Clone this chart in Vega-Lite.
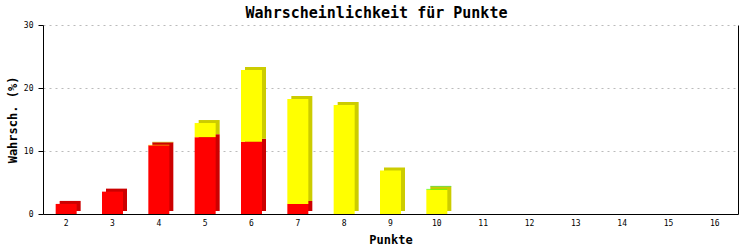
{
  "$schema": "https://vega.github.io/schema/vega-lite/v6.json",
  "width": 695,
  "height": 189,
  "autosize": "none",
  "padding": {"left": 43, "top": 25, "right": 15, "bottom": 36},
  "background": "white",
  "title": {
    "text": "Wahrscheinlichkeit für Punkte",
    "font": "DejaVu Sans Mono",
    "fontSize": 15,
    "fontWeight": "bold",
    "color": "black",
    "anchor": "middle",
    "frame": "group",
    "dx": -14,
    "offset": 0
  },
  "config": {
    "view": {"stroke": null},
    "axis": {"labelFont": "DejaVu Sans Mono", "titleFont": "DejaVu Sans Mono", "labelColor": "black", "titleColor": "black", "domainColor": "black", "tickColor": "black"}
  },
  "data": {
    "values": [
      {"punkte": 2, "serie": "rot", "ord": 1, "wert": 1.6},
      {"punkte": 3, "serie": "rot", "ord": 1, "wert": 3.55},
      {"punkte": 4, "serie": "rot", "ord": 1, "wert": 10.9},
      {"punkte": 4, "serie": "gelb", "ord": 2, "wert": 0.08},
      {"punkte": 5, "serie": "rot", "ord": 1, "wert": 12.2},
      {"punkte": 5, "serie": "gelb", "ord": 2, "wert": 2.24},
      {"punkte": 6, "serie": "rot", "ord": 1, "wert": 11.45},
      {"punkte": 6, "serie": "gelb", "ord": 2, "wert": 11.4},
      {"punkte": 7, "serie": "rot", "ord": 1, "wert": 1.6},
      {"punkte": 7, "serie": "gelb", "ord": 2, "wert": 16.65},
      {"punkte": 8, "serie": "gelb", "ord": 2, "wert": 17.3},
      {"punkte": 9, "serie": "gelb", "ord": 2, "wert": 6.9},
      {"punkte": 10, "serie": "gelb", "ord": 2, "wert": 3.9},
      {"punkte": 10, "serie": "grün", "ord": 3, "wert": 0.08}
    ]
  },
  "encoding": {
    "x": {
      "field": "punkte",
      "type": "ordinal",
      "scale": {"domain": [2, 3, 4, 5, 6, 7, 8, 9, 10, 11, 12, 13, 14, 15, 16], "paddingInner": 0, "paddingOuter": 0},
      "axis": {"title": "Punkte", "labelAngle": 0, "ticks": false, "tickSize": 0, "labelPadding": 5, "labelFontSize": 8, "titleFontSize": 12, "titleFontWeight": "bold", "titlePadding": 7, "grid": false}
    },
    "y": {
      "field": "wert",
      "type": "quantitative",
      "stack": "zero",
      "scale": {"domain": [0, 30], "nice": false}
    },
    "order": {"field": "ord", "type": "quantitative"}
  },
  "layer": [
    {
      "mark": {"type": "bar", "width": 21, "xOffset": 4, "yOffset": -3},
      "encoding": {
        "y": {"field": "wert", "type": "quantitative", "stack": "zero", "scale": {"domain": [0, 30], "nice": false},
          "axis": {"orient": "right", "labels": false, "ticks": false, "grid": false, "title": null, "domainColor": "black"}},
        "color": {"field": "serie", "type": "nominal", "scale": {"domain": ["rot", "gelb", "grün"], "range": ["#CC0000", "#CCCC00", "#00CC00"]}, "legend": null}
      }
    },
    {
      "mark": {"type": "bar", "width": 21},
      "encoding": {
        "y": {"field": "wert", "type": "quantitative", "stack": "zero", "scale": {"domain": [0, 30], "nice": false},
          "axis": {"orient": "left", "values": [0, 10, 20, 30], "title": "Wahrsch. (%)", "titleFontSize": 12, "titleFontWeight": "bold", "titlePadding": 4, "labelFontSize": 8, "labelPadding": 5, "tickSize": 5, "grid": true, "gridColor": "#BBBBBB", "gridDash": [2, 4], "gridWidth": 1}},
        "color": {"field": "serie", "type": "nominal", "scale": {"domain": ["rot", "gelb", "grün"], "range": ["#FF0000", "#FFFF00", "#00FF00"]}, "legend": null}
      }
    }
  ],
  "resolve": {"axis": {"y": "independent"}, "scale": {"color": "independent"}}
}
